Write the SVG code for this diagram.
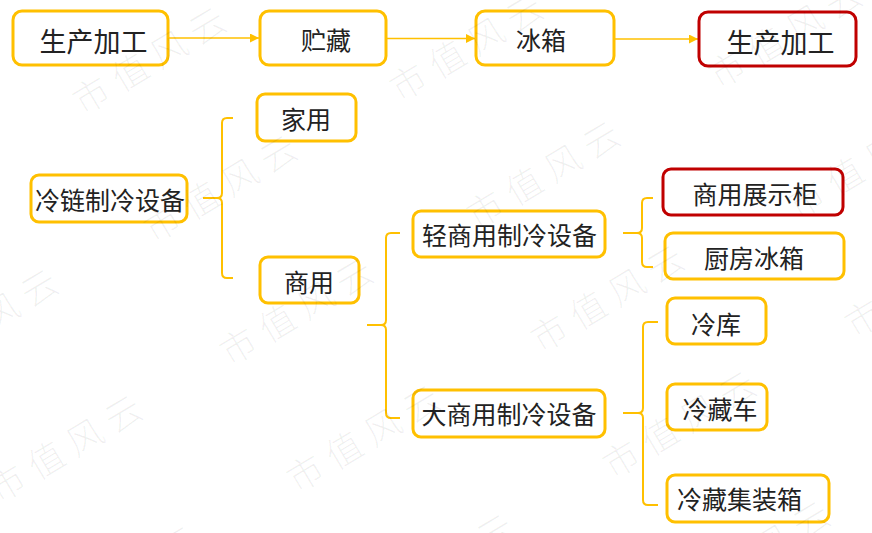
<svg xmlns="http://www.w3.org/2000/svg" width="872" height="533" viewBox="0 0 872 533">
<defs>
<style>
.box{fill:#fff;stroke:#FFC000;stroke-width:3}
.red{fill:#fff;stroke:#C00000;stroke-width:3}
.t{font-family:"Noto Sans CJK SC","Noto Sans",sans-serif;font-size:25px;fill:#222;text-anchor:middle;dominant-baseline:central}
.big{font-size:27px}
.ln{fill:none;stroke:#FFC000;stroke-width:2}
.arr{fill:none;stroke:#FFC000;stroke-width:1.6}
.wm{font-family:"Noto Sans CJK SC",sans-serif;font-size:36px;font-weight:300;fill:#000;fill-opacity:0.06;letter-spacing:9px;dominant-baseline:central}
</style>
<marker id="ah" viewBox="0 0 10 10" refX="10" refY="5" markerWidth="9" markerHeight="9" markerUnits="userSpaceOnUse" orient="auto">
<path d="M0,0 L10,5 L0,10 z" fill="#FFC000"/>
</marker>
</defs>
<rect width="872" height="533" fill="#fff"/>

<g id="connectors">
<path class="arr" d="M169,38 H259" marker-end="url(#ah)"/>
<path class="arr" d="M387,38.5 H475" marker-end="url(#ah)"/>
<path class="arr" d="M615,39 H698" marker-end="url(#ah)"/>
<path class="ln" d="M233,118 H227 Q222,118 222,123 V193 Q222,198 217,198 H203"/>
<path class="ln" d="M233,278 H227 Q222,278 222,273 V203 Q222,198 217,198"/>
<path class="ln" d="M400,233 H391 Q386,233 386,238 V320 Q386,325 381,325 H367"/>
<path class="ln" d="M400,418 H391 Q386,418 386,413 V330 Q386,325 381,325"/>
<path class="ln" d="M653,198 H647 Q642,198 642,203 V228 Q642,233 637,233 H623"/>
<path class="ln" d="M653,267 H647 Q642,267 642,262 V238 Q642,233 637,233"/>
<path class="ln" d="M658,322 H648 Q643,322 643,327 V408 Q643,413 638,413 H623"/>
<path class="ln" d="M658,505 H648 Q643,505 643,500 V418 Q643,413 638,413"/>
</g>

<g id="n1"><rect class="box" x="13" y="11" width="155" height="54" rx="9"/><text class="t big" x="93.5" y="40">生产加工</text></g>
<g id="n2"><rect class="box" x="260" y="11" width="126" height="54" rx="9"/><text class="t" x="326" y="39">贮藏</text></g>
<g id="n3"><rect class="box" x="476" y="11" width="138" height="54" rx="9"/><text class="t" x="541" y="39">冰箱</text></g>
<g id="n4"><rect class="red" x="699" y="12" width="157" height="54" rx="9"/><text class="t big" x="780.5" y="41">生产加工</text></g>

<g id="n5"><rect class="box" x="257" y="94" width="99" height="47" rx="8"/><text class="t" x="306" y="118">家用</text></g>
<g id="n6"><rect class="box" x="31" y="175" width="156" height="47" rx="8"/><text class="t" x="110" y="198.5">冷链制冷设备</text></g>
<g id="n7"><rect class="box" x="260" y="257" width="99" height="46" rx="8"/><text class="t" x="309" y="281">商用</text></g>
<g id="n8"><rect class="box" x="413" y="211" width="192" height="46" rx="8"/><text class="t" x="509.5" y="234">轻商用制冷设备</text></g>
<g id="n9"><rect class="box" x="413" y="390" width="192" height="47" rx="8"/><text class="t" x="509" y="412.5">大商用制冷设备</text></g>
<g id="n10"><rect class="red" x="663" y="169" width="180" height="46" rx="8"/><text class="t" x="755" y="192.5">商用展示柜</text></g>
<g id="n11"><rect class="box" x="665" y="233" width="179" height="46" rx="8"/><text class="t" x="754" y="256.5">厨房冰箱</text></g>
<g id="n12"><rect class="box" x="667" y="298" width="99" height="46" rx="8"/><text class="t" x="716" y="322.5">冷库</text></g>
<g id="n13"><rect class="box" x="667" y="384" width="100" height="46" rx="8"/><text class="t" x="720" y="407.5">冷藏车</text></g>
<g id="n14"><rect class="box" x="667" y="475" width="162" height="47" rx="8"/><text class="t" x="739.5" y="498">冷藏集装箱</text></g>

<g id="watermark">
<text class="wm" transform="translate(90,93) rotate(-31)" x="-18" y="0">市值风云</text>
<text class="wm" transform="translate(407,80) rotate(-31)" x="-18" y="0">市值风云</text>
<text class="wm" transform="translate(726,67) rotate(-31)" x="-18" y="0">市值风云</text>
<text class="wm" transform="translate(161,221) rotate(-31)" x="-18" y="0">市值风云</text>
<text class="wm" transform="translate(484,207) rotate(-31)" x="-18" y="0">市值风云</text>
<text class="wm" transform="translate(805,197) rotate(-31)" x="-18" y="0">市值风云</text>
<text class="wm" transform="translate(-78,355) rotate(-31)" x="-18" y="0">市值风云</text>
<text class="wm" transform="translate(237,344) rotate(-31)" x="-18" y="0">市值风云</text>
<text class="wm" transform="translate(548,331) rotate(-31)" x="-18" y="0">市值风云</text>
<text class="wm" transform="translate(862,316) rotate(-31)" x="-18" y="0">市值风云</text>
<text class="wm" transform="translate(6,481) rotate(-31)" x="-18" y="0">市值风云</text>
<text class="wm" transform="translate(304,471) rotate(-31)" x="-18" y="0">市值风云</text>
<text class="wm" transform="translate(620,457) rotate(-31)" x="-18" y="0">市值风云</text>
<text class="wm" transform="translate(62,612) rotate(-31)" x="-18" y="0">市值风云</text>
<text class="wm" transform="translate(378,600) rotate(-31)" x="-18" y="0">市值风云</text>
<text class="wm" transform="translate(694,587) rotate(-31)" x="-18" y="0">市值风云</text>
</g>
</svg>
